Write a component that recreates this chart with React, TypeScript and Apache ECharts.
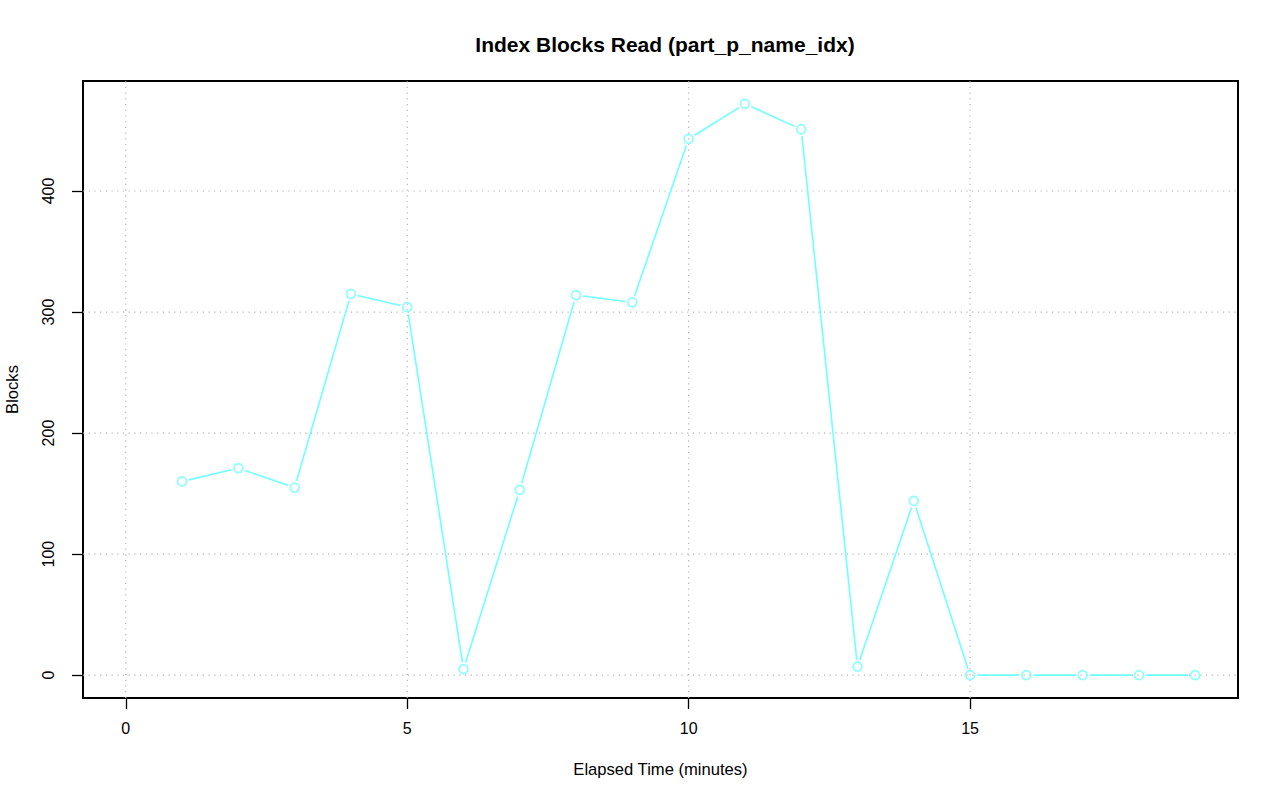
import React, { useEffect, useRef } from "react";
import * as echarts from "echarts";

const minutes = [1, 2, 3, 4, 5, 6, 7, 8, 9, 10, 11, 12, 13, 14, 15, 16, 17, 18, 19];
const blocks = [160, 171, 155, 315, 304, 5, 153, 314, 308, 443, 472, 451, 7, 144, 0, 0, 0, 0, 0];
const xTicks = [0, 5, 10, 15];
const yTicks = [0, 100, 200, 300, 400];

const LINE_COLOR = "#70ffff";
const FONT = "'Liberation Sans', Arial, Helvetica, sans-serif";

export default function App() {
  const ref = useRef<HTMLDivElement>(null);
  useEffect(() => {
    if (!ref.current) return;
    const chart = echarts.init(ref.current, null, { renderer: "svg" });
    const points = minutes.map((m, i) => [m, blocks[i]]);
    const xMinData = 0;
    const xMaxData = 19;
    const xPad = (xMaxData - xMinData) * 0.04;
    const yMaxData = Math.max(...blocks);
    const yPad = yMaxData * 0.04;
    const gap = 7;

    chart.setOption({
      animation: false,
      backgroundColor: "#ffffff",
      title: {
        text: "Index Blocks Read (part_p_name_idx)",
        left: 660,
        textAlign: "center",
        top: 29,
        textStyle: { fontFamily: FONT, fontSize: 21, fontWeight: "bold", color: "#000" },
      },
      grid: {
        left: 83,
        top: 81,
        width: 1155,
        height: 617,
        outerBoundsMode: "none",
        containLabel: false,
        show: true,
        borderColor: "#000",
        borderWidth: 2,
        backgroundColor: "transparent",
      },
      xAxis: {
        type: "value",
        min: xMinData - xPad,
        max: xMaxData + xPad,
        name: "Elapsed Time (minutes)",
        nameLocation: "middle",
        nameGap: 63,
        nameTextStyle: { fontFamily: FONT, fontSize: 16.6, color: "#000" },
        axisLine: { show: false, onZero: false },
        axisTick: {
          show: true,
          inside: false,
          length: 11,
          customValues: xTicks,
          lineStyle: { color: "#000", width: 1.3 },
        },
        axisLabel: {
          customValues: xTicks,
          fontFamily: FONT,
          fontSize: 16,
          color: "#000",
          margin: 22,
        },
        splitLine: { show: false },
      },
      yAxis: {
        type: "value",
        min: -yPad,
        max: yMaxData + yPad,
        name: "Blocks",
        nameLocation: "middle",
        nameGap: 62,
        nameRotate: 90,
        nameTextStyle: { fontFamily: FONT, fontSize: 16.6, color: "#000" },
        axisLine: { show: false, onZero: false },
        axisTick: {
          show: true,
          inside: false,
          length: 11,
          customValues: yTicks,
          lineStyle: { color: "#000", width: 1.3 },
        },
        axisLabel: {
          customValues: yTicks,
          rotate: 90,
          fontFamily: FONT,
          fontSize: 16,
          color: "#000",
          margin: 27,
        },
        splitLine: { show: false },
      },
      series: [
        {
          type: "custom",
          coordinateSystem: "cartesian2d",
          silent: true,
          z: 1,
          data: [0],
          renderItem: (params: any, api: any) => {
            const children: any[] = [];
            const [x0, y0] = api.coord([xMinData - xPad, -yPad]);
            const [x1, y1] = api.coord([xMaxData + xPad, yMaxData + yPad]);
            const dash = [1.2, 4.5];
            xTicks.forEach((t) => {
              const [x] = api.coord([t, 0]);
              children.push({
                type: "line",
                shape: { x1: x, y1: y0, x2: x, y2: y1 },
                style: { stroke: "#b4b4b4", lineWidth: 1.2, lineDash: dash },
              });
            });
            yTicks.forEach((t) => {
              const [, y] = api.coord([0, t]);
              children.push({
                type: "line",
                shape: { x1: x0, y1: y, x2: x1, y2: y },
                style: { stroke: "#b4b4b4", lineWidth: 1.2, lineDash: dash },
              });
            });
            return { type: "group", children };
          },
        },
        {
          type: "custom",
          coordinateSystem: "cartesian2d",
          silent: true,
          z: 2,
          data: points.slice(1).map((p, i) => [points[i][0], points[i][1], p[0], p[1]]),
          renderItem: (params: any, api: any) => {
            const a = api.coord([api.value(0), api.value(1)]);
            const b = api.coord([api.value(2), api.value(3)]);
            const dx = b[0] - a[0];
            const dy = b[1] - a[1];
            const len = Math.sqrt(dx * dx + dy * dy);
            if (len <= 2 * gap) return { type: "group", children: [] };
            const ux = dx / len;
            const uy = dy / len;
            return {
              type: "line",
              shape: {
                x1: a[0] + ux * gap,
                y1: a[1] + uy * gap,
                x2: b[0] - ux * gap,
                y2: b[1] - uy * gap,
              },
              style: { stroke: LINE_COLOR, lineWidth: 1.6 },
            };
          },
        },
        {
          type: "scatter",
          z: 3,
          data: points,
          symbol: "circle",
          symbolSize: 9,
          itemStyle: { color: "transparent", borderColor: LINE_COLOR, borderWidth: 1.7 },
          silent: true,
        },
      ],
    });
    return () => chart.dispose();
  }, []);
  return (
    <div
      ref={ref}
      style={{ position: "fixed", left: 0, top: 0, width: 1280, height: 801 }}
    />
  );
}
